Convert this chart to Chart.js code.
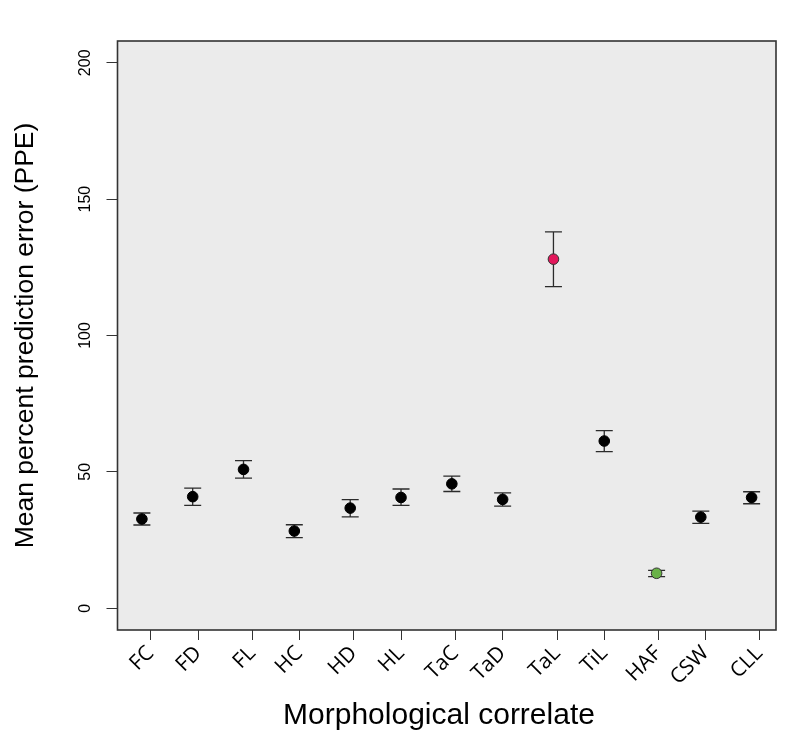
<!DOCTYPE html>
<html>
<head>
<meta charset="utf-8">
<script src="https://cdn.jsdelivr.net/npm/chart.js@4.4.1/dist/chart.umd.min.js"></script>
<style>
    body { margin: 0; background: #fff; }
    #wrap { width: 796px; height: 742px; }
</style>
</head>
<body>
<div id="wrap"><canvas id="ppeChart"></canvas></div>
<script>
const categories = ['FC', 'FD', 'FL', 'HC', 'HD', 'HL', 'TaC', 'TaD', 'TaL', 'TiL', 'HAF', 'CSW', 'CLL'];
const xPos = [1, 2, 3, 4, 5.1, 6.1, 7.1, 8.1, 9.1, 10.1, 11.13, 12, 13];
const meanPPE = [32.7, 40.9, 50.9, 28.3, 36.7, 40.6, 45.6, 39.9, 128.0, 61.3, 12.8, 33.4, 40.6];
const upperPPE = [34.9, 44.0, 54.1, 30.6, 39.8, 43.7, 48.4, 42.3, 138.0, 65.1, 13.9, 35.6, 42.7];
const lowerPPE = [30.5, 37.7, 47.7, 25.9, 33.5, 37.7, 42.8, 37.4, 117.9, 57.4, 11.6, 31.1, 38.3];
const xTickPos = [1.17, 2.11, 3.17, 4.1, 5.17, 6.1, 7.17, 8.1, 9.17, 10.1, 11.16, 12.09, 13.15];
const yTicks = [0, 50, 100, 150, 200];

const pointFill = (i) => {
    if (categories[i] === 'TaL') return '#e3175b';
    if (categories[i] === 'HAF') return '#69b248';
    return '#000';
};

const plotFrame = {
    id: 'plotFrame',
    beforeDraw(chart) {
        const { ctx, chartArea: a } = chart;
        ctx.save();
        ctx.fillStyle = '#ebebeb';
        ctx.fillRect(a.left, a.top, a.right - a.left, a.bottom - a.top);
        ctx.restore();
    },
    beforeDatasetsDraw(chart) {
        // error bars, drawn under the points
        const { ctx, scales: { x, y } } = chart;
        ctx.save();
        ctx.strokeStyle = '#2b2b2b';
        ctx.lineWidth = 1.3;
        const cap = 8.5;
        meanPPE.forEach((m, i) => {
            const px = x.getPixelForValue(xPos[i]);
            const top = y.getPixelForValue(upperPPE[i]);
            const bot = y.getPixelForValue(lowerPPE[i]);
            ctx.beginPath();
            ctx.moveTo(px, top); ctx.lineTo(px, bot);
            ctx.moveTo(px - cap, top); ctx.lineTo(px + cap, top);
            ctx.moveTo(px - cap, bot); ctx.lineTo(px + cap, bot);
            ctx.stroke();
        });
        ctx.restore();
    },
    afterDraw(chart) {
        const { ctx, chartArea: a, scales: { y } } = chart;
        ctx.save();
        ctx.strokeStyle = '#333';
        ctx.lineWidth = 1.6;
        ctx.strokeRect(a.left, a.top, a.right - a.left, a.bottom - a.top);

        // y tick labels run vertically, like base R
        ctx.fillStyle = '#000';
        ctx.font = '16px "Liberation Sans", Arial, sans-serif';
        ctx.textAlign = 'center';
        ctx.textBaseline = 'middle';
        yTicks.forEach((v) => {
            ctx.save();
            ctx.translate(86, y.getPixelForValue(v));
            ctx.rotate(-Math.PI / 2);
            ctx.fillText(String(v), 0, 0);
            ctx.restore();
        });

        // x axis title sits a little left of the plot centre in the original
        ctx.font = '30px "Liberation Sans", Arial, sans-serif';
        ctx.fillText('Morphological correlate', 439, 716);
        ctx.restore();
    }
};

new Chart(document.getElementById('ppeChart'), {
    type: 'scatter',
    data: {
        datasets: [{
            label: 'Mean PPE',
            data: meanPPE.map((m, i) => ({ x: xPos[i], y: m })),
            pointRadius: 5.3,
            pointBackgroundColor: (c) => pointFill(c.dataIndex),
            pointBorderColor: (c) => (pointFill(c.dataIndex) === '#000' ? '#000' : '#333'),
            pointBorderWidth: 1
        }]
    },
    options: {
        responsive: true,
        maintainAspectRatio: false,
        animation: false,
        events: [],
        layout: { padding: { top: 41, right: 20, bottom: 0, left: 0 } },
        plugins: {
            legend: { display: false },
            tooltip: { enabled: false }
        },
        scales: {
            x: {
                type: 'linear',
                min: 0.52,
                max: 13.48,
                afterBuildTicks: (scale) => {
                    scale.ticks = xTickPos.map((v) => ({ value: v }));
                },
                afterFit: (scale) => { scale.height = 112; },
                border: { display: false },
                grid: {
                    drawOnChartArea: false,
                    drawTicks: true,
                    tickLength: 10,
                    color: '#333'
                },
                ticks: {
                    autoSkip: false,
                    minRotation: 45,
                    maxRotation: 45,
                    padding: 1,
                    color: '#000',
                    font: { family: '"Open Sans", sans-serif', size: 21 },
                    callback: (value, index) => categories[index]
                },
                title: { display: false }
            },
            y: {
                min: -8,
                max: 208,
                afterBuildTicks: (scale) => {
                    scale.ticks = yTicks.map((v) => ({ value: v }));
                },
                afterFit: (scale) => { scale.width = 117.5; },
                border: { display: false },
                grid: {
                    drawOnChartArea: false,
                    drawTicks: true,
                    tickLength: 11,
                    color: '#333'
                },
                ticks: { color: 'transparent' },
                title: {
                    display: true,
                    text: 'Mean percent prediction error (PPE)',
                    color: '#000',
                    font: { family: '"Liberation Sans", Arial, sans-serif', size: 26.5 },
                    padding: { top: 10, bottom: 0 }
                }
            }
        }
    },
    plugins: [plotFrame]
});
</script>
</body>
</html>
